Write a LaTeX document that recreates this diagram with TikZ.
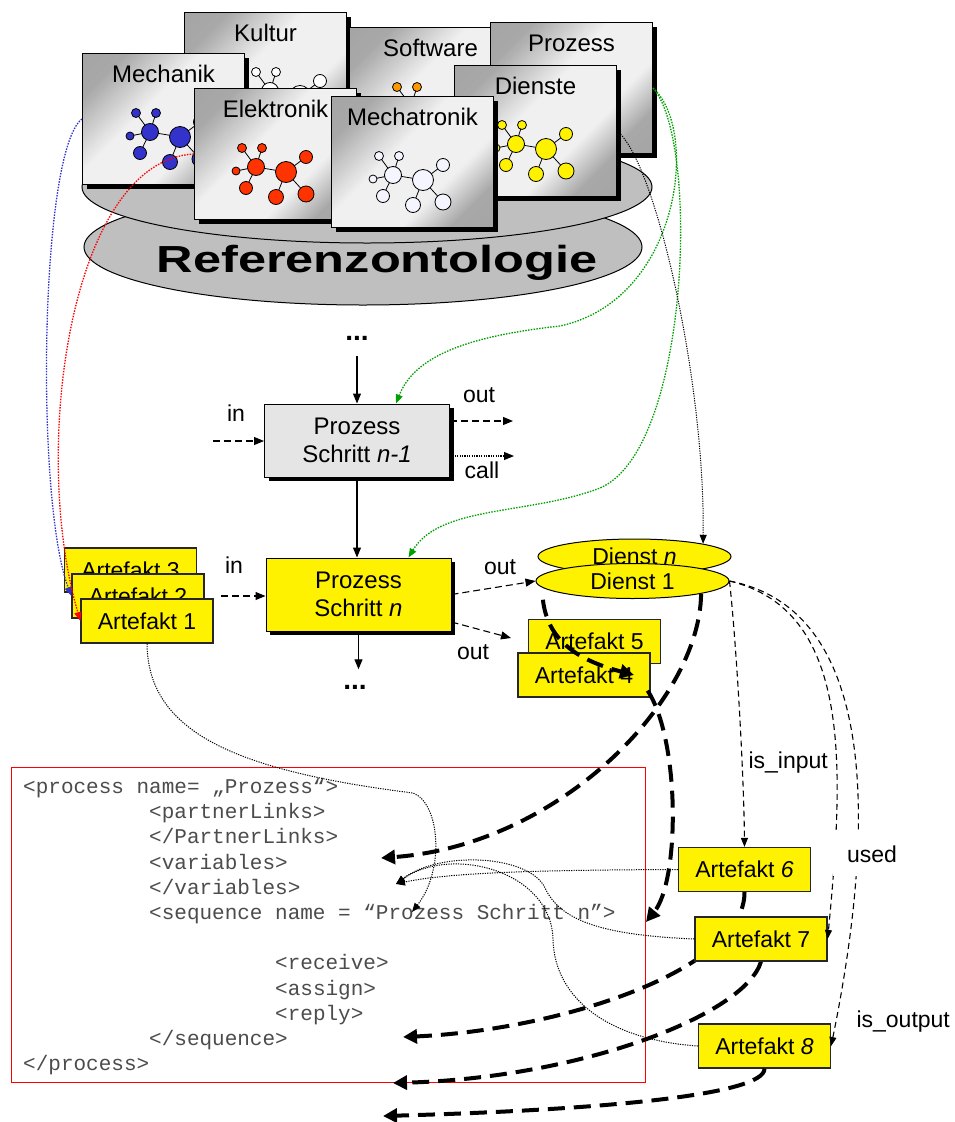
\documentclass[tikz,border=0pt]{standalone}
\usepackage{fontspec}
\setmainfont{Liberation Sans}
\newfontfamily\codefont{Liberation Mono}
\usetikzlibrary{shadows,arrows.meta,backgrounds,shapes.geometric}

\definecolor{atomblue}{RGB}{51,51,204}
\definecolor{atomred}{RGB}{255,51,0}
\definecolor{atomorange}{RGB}{255,153,0}
\definecolor{mapgreen}{RGB}{0,160,0}

% light in the middle, darker towards two corners
\pgfdeclareverticalshading{ontoshade}{100bp}{color(0bp)=(gray!75); color(25bp)=(gray!68);
    color(37bp)=(gray!12); color(57bp)=(gray!12); color(75bp)=(gray!68); color(100bp)=(gray!75)}

\tikzset{disc/.style={fill=gray!50, draw=black, line width=1pt},
        ontobox/.style={anchor=north west, draw=black, line width=1pt,
                        minimum width=162pt, minimum height=131pt,
                        shading=ontoshade, shading angle=45,
                        drop shadow={shadow xshift=4pt, shadow yshift=-4pt, fill=black, opacity=1}},
        boxtitle/.style={below=9pt, font=\fontsize{24}{26}\selectfont},
        stepbox/.style={draw=black, line width=1pt, minimum width=185pt, minimum height=73pt,
                        align=center, font=\fontsize{24}{28}\selectfont,
                        drop shadow={shadow xshift=4pt, shadow yshift=-4pt, fill=black, opacity=1}},
        artefakt/.style={draw=black!85, line width=1.2pt, fill=yellow, inner sep=0pt,
                        minimum width=132pt, minimum height=44pt, font=\fontsize{23}{25}\selectfont},
        dienst/.style={ellipse, draw=black, line width=1pt, fill=yellow, inner sep=0pt,
                        minimum width=193pt, minimum height=35pt, font=\fontsize{23}{25}\selectfont},
        lbl/.style={font=\fontsize{23}{25}\selectfont},
        moredots/.style={anchor=base, font=\fontsize{28}{30}\selectfont\bfseries},
        flow/.style={-{Triangle[length=10pt,width=8pt]}, line width=1.1pt},
        dashflow/.style={flow, dash pattern=on 7pt off 4pt},
        callflow/.style={flow, dash pattern=on 1.2pt off 1.2pt},
        dotflow/.style={-{Triangle[length=9pt,width=7pt]}, line width=1pt, dash pattern=on 1.2pt off 1.2pt},
        mapflow/.style={dotflow, line width=1.3pt, dash pattern=on 1.5pt off 1.3pt},
        relflow/.style={-{Triangle[length=9pt,width=7pt]}, line width=1.1pt, dash pattern=on 6pt off 4pt},
        bpelflow/.style={-{Triangle[length=14pt,width=14pt]}, line width=4pt, dash pattern=on 17pt off 9pt},
        }

% #1 = upper left corner of the box, #2 = atom colour
\newcommand{\drawmolecule}[2]{%
  \begin{scope}[shift={#1}, line width=0.8pt]
    \draw (48,60) -- (62,79) -- (68,60) (42,83) -- (62,79) -- (52,100)
          (62,79) -- (92,84) -- (112,69) (82,109) -- (92,84) -- (112,106);
    \foreach \ax/\ay/\ar in {62/79/8.5, 92/84/10.5, 48/60/4.5, 68/60/4.5, 42/83/4,
                             52/100/6.5, 112/69/6.5, 82/109/7.5, 112/106/8}
      \filldraw[fill=#2] (\ax,\ay) circle[radius=\ar];
  \end{scope}}

\begin{document}
\begin{tikzpicture}[x=1pt, y=-1pt]
    \useasboundingbox (0,0) rectangle (954,1122);
    \begin{pgfonlayer}{background}
        \fill[white] (0,0) rectangle (954,1122);
        \node[draw=red, line width=1.3pt, anchor=north west, inner sep=0pt,
              minimum width=634pt, minimum height=315pt] (bpelFrame) at (11,767) {};
    \end{pgfonlayer}

    % Referenzontologie
    \draw[disc] (363,247) ellipse [x radius=279, y radius=58];
    \draw[disc] (367,187) ellipse [x radius=285, y radius=56];
    \node[anchor=base, font=\fontsize{37.7}{40}\selectfont\bfseries] (refOnto) at (377,272)
        {\scalebox{1.34}[1]{Referenzontologie}};

    \node[ontobox, label={[boxtitle]north:Kultur}] (kultur) at (184,12) {};
    \drawmolecule{(208,12)}{white}
    \node[ontobox, label={[boxtitle]north:Software}] (software) at (349,27) {};
    \drawmolecule{(349,27)}{atomorange}
    \node[ontobox, label={[boxtitle]north:Prozess}] (prozess) at (490,22) {};
    \node[ontobox, label={[boxtitle]north:Mechanik}] (mechanik) at (82,53) {};
    \drawmolecule{(88,53)}{atomblue}
    \node[ontobox, label={[boxtitle]north:Dienste}] (dienste) at (454,65) {};
    \drawmolecule{(454,65)}{yellow}
    \node[ontobox, label={[boxtitle]north:Elektronik}] (elektronik) at (194,88) {};
    \drawmolecule{(194,88)}{atomred}
    \node[ontobox, label={[boxtitle]north:Mechatronik}] (mechatronik) at (331,96) {};
    \drawmolecule{(331,96)}{blue!4}

    % process steps
    \node[moredots] (dotsTop) at (357,340) {...};
    \node[stepbox, fill=gray!20] (step1) at (357,440.5) {Prozess\\Schritt \textit{n-1}};
    \node[stepbox, fill=yellow] (step2) at (358.5,594.5) {Prozess\\Schritt \textit{n}};
    \node[moredots] (dotsBottom) at (355,689) {...};

    \draw[flow, shorten <=12pt] (dotsTop.south) -- (step1.north);
    \draw[flow] (step1.south) -- (step1.south |- step2.north);
    \draw[flow, shorten >=12pt] (step2.south) -- (step2.south |- dotsBottom.north);

    \node[artefakt] (a3) at (130.5,570) {Artefakt 3};
    \node[artefakt] (a2) at (138,596) {Artefakt 2};
    \node[artefakt] (a1) at (147,621) {Artefakt 1};
    \node[artefakt] (a5) at (594.5,641.5) {Artefakt 5};
    \node[artefakt] (a4) at (584,675) {Artefakt 4};
    \node[dienst] (dienstN) at (634.5,556.5) {Dienst \textit{n}};
    \node[dienst] (dienst1) at (632.5,581) {Dienst 1};
    \node[artefakt] (a6) at (744.5,869.5) {Artefakt \textit{6}};
    \node[artefakt] (a7) at (761,939) {Artefakt 7};
    \node[artefakt] (a8) at (764.5,1046) {Artefakt \textit{8}};

    % in / out / call
    \coordinate (inA) at (213,441);
    \coordinate (outA) at (513,421);
    \coordinate (callA) at (514,456);
    \coordinate (inB) at (221,596);
    \coordinate (outC) at (511,638);
    \node[lbl] (inALabel) at (236,413) {in};
    \node[lbl] (outALabel) at (479,395) {out};
    \node[lbl] (callALabel) at (482,470) {call};
    \node[lbl] (inBLabel) at (234,565) {in};
    \node[lbl] (outBLabel) at (500,567) {out};
    \node[lbl] (outCLabel) at (473,652) {out};
    \draw[dashflow] (inA) -- (step1.west |- inA);
    \draw[dashflow] (step1.east |- outA) -- (outA);
    \draw[callflow] (step1.east |- callA) -- (callA);
    \draw[dashflow] (inB) -- (step2.west |- inB);
    \draw[dashflow] (step2.east) -- (dienst1.west);
    \draw[dashflow] ([yshift=-27.5pt]step2.east) -- (outC);

    % BPEL
    \node[anchor=north west, inner sep=0pt, align=left, text=black!70,
          font=\codefont\fontsize{21}{25.2}\selectfont] (bpelCode) at (23,778)
        {<process name= „Prozess“>\\
         \hspace*{126pt}<partnerLinks>\\
         \hspace*{126pt}</PartnerLinks>\\
         \hspace*{126pt}<variables>\\
         \hspace*{126pt}</variables>\\
         \hspace*{126pt}<sequence name = “Prozess Schritt n”>\\[25.2pt]
         \hspace*{252pt}<receive>\\
         \hspace*{252pt}<assign>\\
         \hspace*{252pt}<reply>\\
         \hspace*{126pt}</sequence>\\
         </process>};
    \coordinate (tVar) at (381,858);
    \coordinate (tVarEnd) at (396,884);
    \coordinate (tSeq) at (412,912);
    \coordinate (tSeqRight) at (646,922);
    \coordinate (tSeqEnd) at (403,1037);
    \coordinate (tProc) at (393,1083);
    \coordinate (tBelow) at (383,1116);

    % mapping onto the ontology
    \draw[mapflow, atomblue] (mechanik.west) .. controls (40,150) and (35,500) .. (a2.west);
    \draw[mapflow, red] (elektronik.west) .. controls (70,160) and (30,450) .. (a1.west);
    \draw[mapflow, mapgreen] (prozess.east) .. controls (700,130) and (680,300) .. (560,326)
        .. controls (470,336) and (415,355) .. ([xshift=39pt]step1.north);
    \draw[mapflow, mapgreen] (prozess.east) .. controls (700,140) and (690,450) .. (600,488)
        .. controls (530,515) and (440,505) .. ([xshift=50pt]step2.north);
    \draw[dotflow] (dienste.east) .. controls (655,160) and (705,380) .. (dienstN.north east);

    % relations of Dienst 1
    \draw[relflow] (dienst1.east) .. controls (737,650) and (744,780) .. (a6.north);
    \draw[relflow] (dienst1.east) .. controls (850,610) and (845,760) .. (a7.east);
    \draw[relflow] (dienst1.east) .. controls (880,610) and (875,830) .. (a8.east);
    \node[lbl, anchor=west] (isInput) at (745,763) {is\_input};
    \node[lbl, fill=white, minimum width=78pt, minimum height=44pt] (used) at (872,854) {used};
    \node[lbl, anchor=west] (isOutput) at (853,1022) {is\_output};

    % artefacts into the code
    \draw[dotflow] (a1.south) .. controls (148,730) and (230,770) .. (413,793)
        .. controls (440,803) and (445,870) .. (tSeq);
    \draw[dotflow] (a6.west) .. controls (550,870) and (450,872) .. (tVarEnd);
    \draw[dotflow] (a7.west) .. controls (600,935) and (560,920) .. (545,888)
        .. controls (530,855) and (440,850) .. (tVarEnd);
    \draw[dotflow] (a8.west) .. controls (610,1040) and (555,1000) .. (553,940)
        .. controls (552,870) and (450,845) .. (tVarEnd);

    \draw[bpelflow] ([shift={(-21,6)}]dienst1.south west) .. controls (548,645) and (585,662) .. ([xshift=50pt]a4.center);
    \draw[bpelflow] ([shift={(-3,-7)}]a4.south east) .. controls (680,740) and (680,880) .. (tSeqRight);
    \draw[bpelflow] (dienst1.south east) .. controls (700,700) and (560,845) .. (tVar);
    \begin{pgfonlayer}{background}
        \draw[bpelflow] (a6.south) .. controls (745,970) and (560,1030) .. (tSeqEnd);
        \draw[bpelflow] (a7.south) .. controls (745,1015) and (580,1078) .. (tProc);
    \end{pgfonlayer}
    \draw[bpelflow] (a8.south) .. controls (765,1095) and (600,1110) .. (tBelow);
\end{tikzpicture}
\end{document}
